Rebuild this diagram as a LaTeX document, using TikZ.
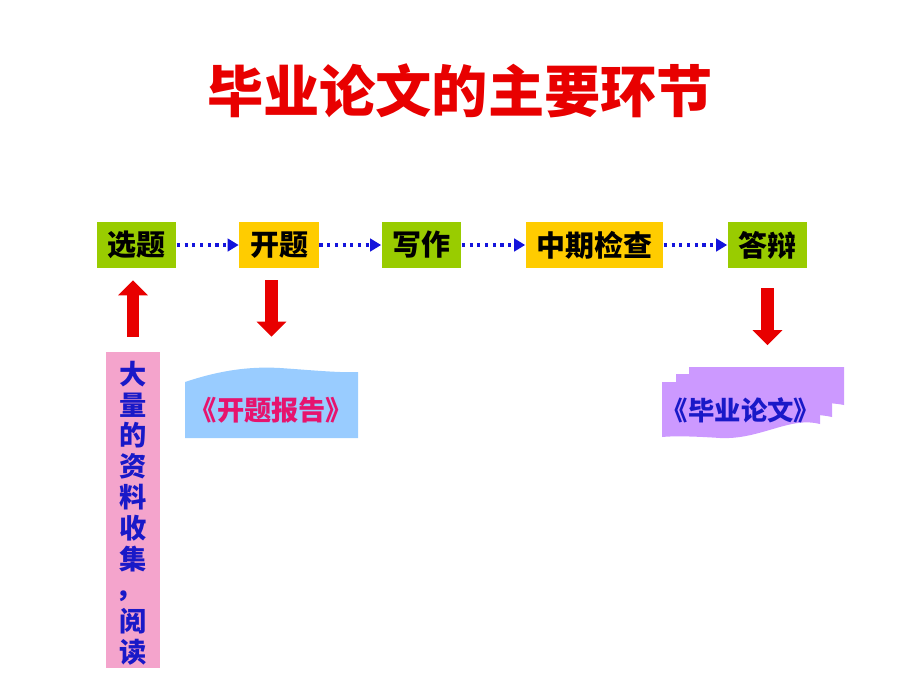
\documentclass[tikz,border=0pt]{standalone}
\usepackage{fontspec}
\setmainfont{Noto Sans CJK SC}
\usetikzlibrary{arrows.meta}
\definecolor{stepgreen}{RGB}{153,204,0}
\definecolor{stepyellow}{RGB}{255,204,0}
\definecolor{arrowblue}{RGB}{20,20,220}
\definecolor{blockred}{RGB}{232,0,0}
\definecolor{notepink}{RGB}{244,164,204}
\definecolor{noteblue}{RGB}{153,204,255}
\definecolor{notepurple}{RGB}{204,153,255}
\definecolor{textblue}{RGB}{25,25,200}
\definecolor{textmagenta}{RGB}{230,20,110}
\begin{document}
\begin{tikzpicture}[x=0.02cm,y=-0.02cm]
		\tikzstyle{stepbox}=[inner xsep=0.22cm,minimum height=0.92cm,font=\fontsize{16.5pt}{20pt}\selectfont\bfseries]
		\tikzstyle{dotarrow}=[arrowblue,line width=1.8pt,dash pattern=on 1.8pt off 2.6pt,-{Triangle[length=0.22cm,width=0.25cm]}]
		\tikzstyle{blockarrow}=[blockred,line width=0.25cm,-{Triangle[length=0.3cm,width=0.58cm]}]
		\useasboundingbox (0,0) rectangle (920,690);

		\node[blockred,font=\fontsize{32pt}{36pt}\selectfont\bfseries] (title) at (460,91) {毕业论文的主要环节};

		\foreach \n / \t / \x / \c in {xuanti/选题/136.5/stepgreen,kaiti/开题/279/stepyellow,xiezuo/写作/421.5/stepgreen,zhongqi/中期检查/594.5/stepyellow,dabian/答辩/767.5/stepgreen} { \node[stepbox,fill=\c] (\n) at (\x,245) {\t};}
		\foreach \a / \b in {xuanti/kaiti,kaiti/xiezuo,xiezuo/zhongqi,zhongqi/dabian} { \draw[dotarrow] (\a) -- (\b);}

		% reading, bottom left
		\node[fill=notepink,minimum width=1.08cm,minimum height=6.32cm] (reading) at (133,510) {};
		\node[text=textblue,align=center,font=\fontsize{15.5pt}{17.6pt}\selectfont\bfseries] (readingtext) at (133,513) {大\\量\\的\\资\\料\\收\\集\\\hspace*{-0.25em}\raisebox{0.12em}{，}\\阅\\读};
		\draw[blockarrow,shorten <=0.3cm,shorten >=0.24cm] (reading.north) -- (reading.north |- xuanti.south);

		% report
		\fill[noteblue] (185,438) -- (185,382) .. controls (215,372) and (245,366) .. (280,368) .. controls (310,370) and (340,373) .. (358,372) -- (358,438) -- cycle;
		\node[minimum width=3.46cm,minimum height=1.12cm,text=textmagenta,font=\fontsize{15.5pt}{18pt}\selectfont\bfseries] (report) at (271.5,410) {《开题报告》};
		\draw[blockarrow,shorten <=0.24cm,shorten >=0.9cm] (kaiti.south -| report.north) -- (report.north);

		% thesis
		\fill[notepurple] (689,405) -- (689,367) -- (844,367) -- (844,405) .. controls (815,399) and (790,410) .. (760,405) -- cycle;
		\fill[notepurple] (676,417) -- (676,374) -- (832,374) -- (832,417) .. controls (800,410) and (770,422) .. (740,418) -- cycle;
		\fill[notepurple] (662,437) -- (662,382) -- (820,382) -- (820,424) .. controls (790,416) and (760,440) .. (720,438) .. controls (690,436) and (672,436) .. (662,437) -- cycle;
		\node[minimum width=3.16cm,minimum height=1.1cm,text=textblue,font=\fontsize{15pt}{18pt}\selectfont\bfseries] (thesis) at (741,410) {《毕业论文》};
		\draw[blockarrow,shorten <=0.4cm,shorten >=0.74cm] (dabian.south) -- (dabian.south |- thesis.north);
	\end{tikzpicture}
\end{document}
